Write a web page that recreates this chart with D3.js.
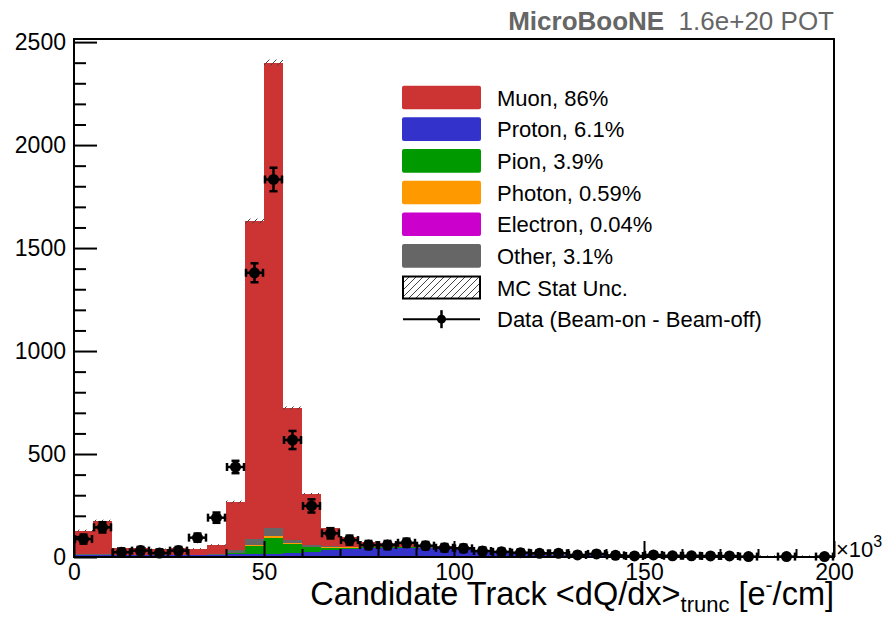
<!DOCTYPE html>
<html>
<head>
<meta charset="utf-8">
<script src="https://cdn.jsdelivr.net/npm/d3@7"></script>
<style>
  body { margin: 0; background: #fff; }
  svg { display: block; font-family: "Liberation Sans", Arial, Helvetica, sans-serif; }
</style>
</head>
<body>
<div id="chart"></div>
<script>
// Bin lower edges, 5k e-/cm wide, 0..200k
var binLow = d3.range(0, 200, 5);
var binWidth = 5;

// Stacked MC components (events per bin), bottom to top
var proton   = [10, 10, 9, 9, 9, 9, 9, 9, 13, 13, 13, 18, 26, 36, 38, 44, 45, 45, 44, 42,
                40, 30, 20, 14, 12, 10, 9, 8, 8, 7, 7, 6, 6, 6, 5, 5, 5, 5, 5, 5];
var pion     = [2, 2, 1, 1, 1, 1, 1, 2, 5, 39, 81, 44, 21, 10, 8, 4, 3, 2, 2, 2,
                1, 1, 1, 1, 0, 0, 0, 0, 0, 0, 0, 0, 0, 0, 0, 0, 0, 0, 0, 0];
var photon   = [0, 0, 0, 0, 0, 0, 0, 0, 2, 5, 9, 8, 3, 1, 1, 0, 0, 0, 0, 0,
                0, 0, 0, 0, 0, 0, 0, 0, 0, 0, 0, 0, 0, 0, 0, 0, 0, 0, 0, 0];
var electron = [0, 0, 0, 0, 0, 0, 0, 0, 0, 0, 1, 0, 0, 0, 0, 0, 0, 0, 0, 0,
                0, 0, 0, 0, 0, 0, 0, 0, 0, 0, 0, 0, 0, 0, 0, 0, 0, 0, 0, 0];
var other    = [2, 2, 1, 1, 1, 1, 1, 3, 16, 32, 36, 11, 8, 6, 3, 2, 2, 2, 1, 1,
                1, 0, 1, 0, 0, 0, 0, 0, 0, 0, 0, 0, 0, 0, 0, 0, 0, 0, 0, 0];
var muon     = [114, 161, 34, 34, 27, 34, 29, 44, 231, 1542, 2260, 642, 248, 89, 49, 24, 16, 17, 11, 8,
                5, 3, 2, 2, 1, 1, 1, 1, 1, 1, 1, 1, 1, 1, 1, 1, 1, 1, 1, 1];
// MC statistical uncertainty on the stack total
var mcStat   = [5, 6, 3, 3, 3, 3, 3, 4, 7, 12, 15, 8, 5, 4, 3, 3, 3, 3, 3, 3,
                3, 2, 2, 2, 2, 2, 2, 2, 2, 2, 2, 2, 2, 2, 2, 2, 2, 2, 2, 2];

// Data (beam-on minus beam-off), null where nothing is drawn
var dataVal = [87, 144, 23, 31, 19, 31, 94, 191, 437, 1380, 1833, 568, 248, 115, 82, 58, 58, 69, 55, 45,
               42, 29, 25, 21, 18, 18, 10, 15, 8, 5, 10, 6, 6, 5, 5, 2, null, 2, null, 2];
var dataErr = [22, 25, 18, 18, 18, 18, 20, 25, 30, 46, 57, 44, 32, 25, 22, 20, 20, 20, 18, 18,
               18, 17, 16, 15, 15, 15, 14, 14, 14, 13, 13, 13, 13, 13, 12, 12, 0, 12, 0, 12];

var yTicks = [0, 500, 1000, 1500, 2000, 2500];
var xTicks = [0, 50, 100, 150, 200];

var components = [
  { key: 'proton',   values: proton,   color: '#3333cc', label: 'Proton, 6.1%' },
  { key: 'pion',     values: pion,     color: '#009900', label: 'Pion, 3.9%' },
  { key: 'photon',   values: photon,   color: '#ff9900', label: 'Photon, 0.59%' },
  { key: 'electron', values: electron, color: '#cc00cc', label: 'Electron, 0.04%' },
  { key: 'other',    values: other,    color: '#666666', label: 'Other, 3.1%' },
  { key: 'muon',     values: muon,     color: '#cc3333', label: 'Muon, 86%' }
];
var legendOrder = ['muon', 'proton', 'pion', 'photon', 'electron', 'other'];

var W = 888, H = 619;
var svg = d3.select('#chart').append('svg')
  .attr('width', W).attr('height', H);

var defs = svg.append('defs');
var hatch = defs.append('pattern')
  .attr('id', 'hatch')
  .attr('patternUnits', 'userSpaceOnUse')
  .attr('width', 7).attr('height', 7);
hatch.append('path')
  .attr('d', 'M-1,8 L8,-1 M-4,4 L4,-4 M3,11 L11,3')
  .attr('stroke', '#444').attr('stroke-width', 1);

var x = d3.scaleLinear().domain([0, 200]).range([74, 834]);
var y = d3.scaleLinear().domain([0, 2515]).range([557, 39]);

// Build the stack table from the component arrays
var table = binLow.map(function(lo, i) {
  var row = { lo: lo };
  components.forEach(function(c) { row[c.key] = c.values[i]; });
  return row;
});
var stack = d3.stack().keys(components.map(function(c) { return c.key; }))(table);

var plot = svg.append('g');
stack.forEach(function(layer, li) {
  plot.append('g')
    .attr('fill', components[li].color)
    .attr('shape-rendering', 'crispEdges')
    .selectAll('rect')
    .data(layer)
    .join('rect')
      .attr('x', function(d) { return x(d.data.lo); })
      .attr('width', function(d) { return x(d.data.lo + binWidth) - x(d.data.lo); })
      .attr('y', function(d) { return y(d[1]); })
      .attr('height', function(d) { return Math.max(0, y(d[0]) - y(d[1])); });
});

// MC stat uncertainty band on top of the stack
var totals = stack[stack.length - 1].map(function(d) { return d[1]; });
plot.append('g')
  .selectAll('rect')
  .data(totals)
  .join('rect')
    .attr('x', function(d, i) { return x(binLow[i]); })
    .attr('width', function(d, i) { return x(binLow[i] + binWidth) - x(binLow[i]); })
    .attr('y', function(d, i) { return y(d + mcStat[i]); })
    .attr('height', function(d, i) { return y(d - mcStat[i]) - y(d + mcStat[i]); })
    .attr('fill', 'url(#hatch)');

// Axes (ticks point inward, ROOT style)
function styleAxis(g) {
  g.selectAll('.domain').remove();
  g.selectAll('line').attr('stroke', '#000').attr('stroke-width', 2);
  g.selectAll('text').attr('font-size', 23).attr('fill', '#000')
    .attr('font-family', '"Liberation Sans", Arial, sans-serif');
}
function noLabels(g) {
  g.selectAll('text').remove();
}

var yMinor = d3.range(0, 2600, 100).filter(function(v) { return v % 500 !== 0; });
var xMinor = d3.range(0, 210, 10).filter(function(v) { return v % 50 !== 0; });

svg.append('g').attr('transform', 'translate(74,0)')
  .call(d3.axisLeft(y).tickValues(yMinor).tickSizeInner(-12).tickSizeOuter(0))
  .call(styleAxis).call(noLabels);
svg.append('g').attr('transform', 'translate(74,0)')
  .call(d3.axisLeft(y).tickValues(yTicks).tickSizeInner(-23).tickSizeOuter(0)
    .tickPadding(8).tickFormat(d3.format('d')))
  .call(styleAxis);
svg.append('g').attr('transform', 'translate(0,557)')
  .call(d3.axisBottom(x).tickValues(xMinor).tickSizeInner(-8).tickSizeOuter(0))
  .call(styleAxis).call(noLabels);
svg.append('g').attr('transform', 'translate(0,557)')
  .call(d3.axisBottom(x).tickValues(xTicks).tickSizeInner(-16).tickSizeOuter(0)
    .tickPadding(7).tickFormat(d3.format('d')))
  .call(styleAxis);

// Frame
svg.append('rect')
  .attr('x', 74).attr('y', 39)
  .attr('width', 834 - 74).attr('height', 557 - 39)
  .attr('fill', 'none').attr('stroke', '#000').attr('stroke-width', 2);

// Data points with error bars
var pts = binLow.map(function(lo, i) {
  return { lo: lo, v: dataVal[i], e: dataErr[i] };
}).filter(function(d) { return d.v !== null; });

var dg = svg.append('g').attr('stroke', '#000').attr('stroke-width', 2.5);
pts.forEach(function(d) {
  var cx = x(d.lo + binWidth / 2), cy = y(d.v);
  var x0 = x(d.lo) + 1, x1 = x(d.lo + binWidth) - 1;
  var cap = 4;
  dg.append('line').attr('x1', x0).attr('x2', x1).attr('y1', cy).attr('y2', cy);
  dg.append('line').attr('x1', x0).attr('x2', x0).attr('y1', cy - cap).attr('y2', cy + cap);
  dg.append('line').attr('x1', x1).attr('x2', x1).attr('y1', cy - cap).attr('y2', cy + cap);
  var yt = y(d.v + d.e), yb = Math.min(557, y(d.v - d.e));
  dg.append('line').attr('x1', cx).attr('x2', cx).attr('y1', yt).attr('y2', yb);
  dg.append('line').attr('x1', cx - cap).attr('x2', cx + cap).attr('y1', yt).attr('y2', yt);
  if (yb < 557) dg.append('line').attr('x1', cx - cap).attr('x2', cx + cap).attr('y1', yb).attr('y2', yb);
  dg.append('circle').attr('cx', cx).attr('cy', cy).attr('r', 5.5).attr('fill', '#000').attr('stroke', 'none');
});

// Legend
var lg = svg.append('g');
var rowY = function(i) { return 97.5 + i * 31.67; };
legendOrder.forEach(function(k, i) {
  var c = components.find(function(cc) { return cc.key === k; });
  lg.append('rect')
    .attr('x', 402).attr('y', rowY(i) - 11.8)
    .attr('width', 79).attr('height', 23.6).attr('rx', 2)
    .attr('fill', c.color);
  lg.append('text')
    .attr('x', 497).attr('y', rowY(i) + 8)
    .attr('font-size', 22).text(c.label);
});
lg.append('rect')
  .attr('x', 403).attr('y', rowY(6) - 11)
  .attr('width', 77).attr('height', 22)
  .attr('fill', 'url(#hatch)').attr('stroke', '#000').attr('stroke-width', 2);
lg.append('text').attr('x', 497).attr('y', rowY(6) + 8).attr('font-size', 22).text('MC Stat Unc.');
lg.append('line')
  .attr('x1', 403).attr('x2', 480).attr('y1', rowY(7)).attr('y2', rowY(7))
  .attr('stroke', '#000').attr('stroke-width', 2);
lg.append('line')
  .attr('x1', 441.5).attr('x2', 441.5).attr('y1', rowY(7) - 9).attr('y2', rowY(7) + 9)
  .attr('stroke', '#000').attr('stroke-width', 2.5);
lg.append('circle').attr('cx', 441.5).attr('cy', rowY(7)).attr('r', 4.5).attr('fill', '#000');
lg.append('text').attr('x', 497).attr('y', rowY(7) + 8).attr('font-size', 22).text('Data (Beam-on - Beam-off)');

// Title
var title = svg.append('text')
  .attr('x', 834).attr('y', 30).attr('text-anchor', 'end')
  .attr('font-size', 26).attr('fill', '#666');
title.append('tspan').attr('font-weight', 'bold').text('MicroBooNE');
title.append('tspan').text('\u00a0\u00a01.6e+20 POT');

// Axis exponent
var expo = svg.append('text').attr('x', 836).attr('y', 557).attr('font-size', 22);
expo.append('tspan').text('\u00d710');
expo.append('tspan').attr('dy', -10).attr('font-size', 16).text('3');

// X axis title
var xt = svg.append('text')
  .attr('x', 834).attr('y', 605).attr('text-anchor', 'end')
  .attr('font-size', 32.5);
xt.append('tspan').text('Candidate Track <dQ/dx>');
xt.append('tspan').attr('dy', 7).attr('font-size', 22).text('trunc');
xt.append('tspan').attr('dy', -7).text(' [e');
xt.append('tspan').attr('dy', -13).attr('font-size', 21).text('-');
xt.append('tspan').attr('dy', 13).text('/cm]');
</script>
</body>
</html>
